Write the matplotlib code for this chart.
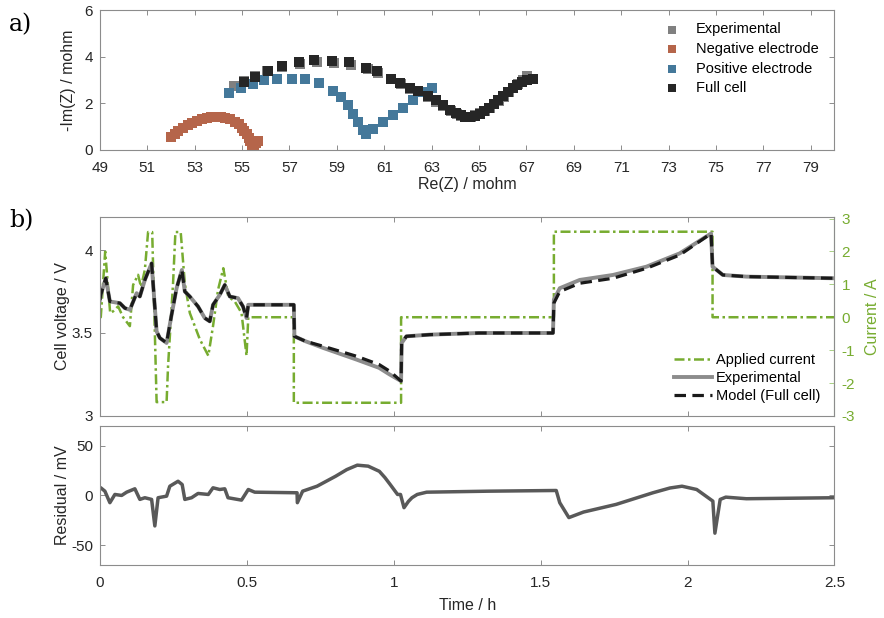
import matplotlib
matplotlib.use("Agg")
import matplotlib.pyplot as plt

plt.rcParams['font.family'] = ['Liberation Sans', 'DejaVu Sans']
plt.rcParams['axes.unicode_minus'] = False

# ---- a) impedance spectra ----
exp_re = [54.65, 55.1, 55.55, 56.05, 56.7, 57.45, 58.15, 58.9, 59.6, 60.3, 60.75, 61.3,
          61.7, 62.1, 62.45, 62.85, 63.2, 63.5, 63.8, 64.05, 64.25, 64.45, 64.65, 64.85,
          65.05, 65.25, 65.45, 65.65, 65.85, 66.05, 66.25, 66.45, 66.65, 66.85, 67.03]
exp_im = [2.72, 2.95, 3.17, 3.38, 3.56, 3.70, 3.76, 3.73, 3.64, 3.45, 3.30, 3.02,
          2.82, 2.62, 2.46, 2.25, 2.05, 1.86, 1.67, 1.53, 1.44, 1.39, 1.40, 1.47,
          1.57, 1.68, 1.81, 1.95, 2.11, 2.28, 2.47, 2.65, 2.83, 3.00, 3.18]

neg_re = [52.0, 52.15, 52.3, 52.5, 52.7, 52.9, 53.1, 53.3, 53.5, 53.7, 53.9, 54.1,
          54.3, 54.5, 54.7, 54.85, 55.0, 55.1, 55.2, 55.3, 55.35, 55.4, 55.5, 55.6, 55.68]
neg_im = [0.55, 0.68, 0.80, 0.93, 1.05, 1.15, 1.25, 1.32, 1.37, 1.40, 1.41, 1.40,
          1.36, 1.30, 1.20, 1.08, 0.93, 0.80, 0.65, 0.50, 0.35, 0.20, 0.20, 0.28, 0.36]

pos_re = [54.46, 54.95, 55.44, 55.94, 56.46, 57.09, 57.67, 58.26, 58.82, 59.18, 59.46,
          59.67, 59.88, 60.09, 60.24, 60.52, 60.94, 61.37, 61.79, 62.21, 62.64, 63.02]
pos_im = [2.44, 2.63, 2.84, 2.99, 3.03, 3.06, 3.02, 2.87, 2.53, 2.27, 1.91,
          1.55, 1.19, 0.83, 0.69, 0.90, 1.19, 1.48, 1.77, 2.12, 2.48, 2.67]

full_re = [55.09, 55.56, 56.08, 56.68, 57.39, 58.05, 58.79, 59.51, 60.24, 60.70, 61.29,
           61.65, 62.07, 62.42, 62.84, 63.20, 63.50, 63.78, 64.02, 64.22, 64.42, 64.62,
           64.82, 65.02, 65.22, 65.42, 65.62, 65.82, 66.02, 66.22, 66.42, 66.62, 66.82,
           67.02, 67.27]
full_im = [2.92, 3.13, 3.39, 3.59, 3.78, 3.85, 3.82, 3.76, 3.52, 3.37, 3.06,
           2.87, 2.67, 2.53, 2.30, 2.12, 1.92, 1.72, 1.57, 1.47, 1.41, 1.40,
           1.45, 1.55, 1.67, 1.80, 1.95, 2.12, 2.30, 2.48, 2.64, 2.78, 2.90,
           2.98, 3.02]

# ---- b) time series ----
t_v = [0.0, 0.003, 0.02, 0.034, 0.068, 0.085, 0.102, 0.125, 0.136, 0.153, 0.176, 0.193,
       0.204, 0.227, 0.244, 0.261, 0.279, 0.289, 0.306, 0.334, 0.357, 0.374, 0.385, 0.408,
       0.425, 0.442, 0.470, 0.487, 0.499, 0.505, 0.66, 0.662, 0.70, 0.76, 0.873, 0.95,
       0.986, 1.025, 1.027, 1.043, 1.122, 1.29, 1.542, 1.545, 1.565, 1.633, 1.746, 1.86,
       1.973, 2.08, 2.085, 2.12, 2.2, 2.5]
v_exp = [3.70, 3.73, 3.83, 3.69, 3.68, 3.65, 3.64, 3.74, 3.72, 3.82, 3.92, 3.51,
         3.47, 3.44, 3.61, 3.77, 3.88, 3.75, 3.72, 3.66, 3.59, 3.57, 3.67, 3.73,
         3.79, 3.72, 3.71, 3.66, 3.59, 3.67, 3.67, 3.48, 3.45, 3.41, 3.34, 3.29,
         3.25, 3.21, 3.44, 3.48, 3.49, 3.50, 3.50, 3.70, 3.77, 3.82, 3.85, 3.90,
         3.98, 4.10, 3.90, 3.85, 3.84, 3.83]
v_mod = [3.70, 3.73, 3.83, 3.69, 3.68, 3.65, 3.64, 3.74, 3.72, 3.82, 3.92, 3.51,
         3.47, 3.44, 3.61, 3.77, 3.88, 3.75, 3.72, 3.66, 3.59, 3.57, 3.67, 3.73,
         3.79, 3.72, 3.71, 3.66, 3.59, 3.67, 3.67, 3.48, 3.45, 3.42, 3.36, 3.31,
         3.27, 3.21, 3.44, 3.48, 3.49, 3.50, 3.50, 3.68, 3.75, 3.80, 3.83, 3.89,
         3.97, 4.10, 3.90, 3.85, 3.84, 3.83]

t_i = [0.0, 0.003, 0.018, 0.035, 0.045, 0.062, 0.079, 0.102, 0.113, 0.13, 0.14, 0.153,
       0.164, 0.178, 0.187, 0.193, 0.227, 0.232, 0.249, 0.257, 0.275, 0.289, 0.306, 0.323,
       0.340, 0.369, 0.385, 0.402, 0.420, 0.437, 0.459, 0.482, 0.499, 0.505, 0.66, 0.66,
       1.025, 1.025, 1.545, 1.545, 2.085, 2.085, 2.5]
cur = [0.0, 0.0, 2.0, 0.13, 0.18, 0.33, 0.0, -0.27, 0.98, 1.29, 0.92, 1.44,
       2.59, 2.59, -0.47, -2.58, -2.58, -1.48, 1.03, 2.59, 2.59, 1.03, 0.13, -0.27,
       -0.67, -1.17, -0.27, 0.83, 1.49, 0.63, 0.48, 0.13, -1.17, 0.0, 0.0, -2.6,
       -2.6, 0.0, 0.0, 2.6, 2.6, 0.0, 0.0]

t_r = [0.0, 0.003, 0.017, 0.034, 0.051, 0.074, 0.091, 0.119, 0.136, 0.153, 0.176, 0.187,
       0.198, 0.227, 0.238, 0.266, 0.28, 0.289, 0.312, 0.334, 0.369, 0.385, 0.408, 0.425,
       0.436, 0.482, 0.505, 0.527, 0.671, 0.672, 0.69, 0.739, 0.802, 0.84, 0.876, 0.913,
       0.951, 0.97, 0.988, 1.013, 1.023, 1.035, 1.05, 1.062, 1.08, 1.112, 1.323, 1.553,
       1.565, 1.596, 1.646, 1.757, 1.882, 1.94, 1.981, 2.031, 2.086, 2.093, 2.111, 2.13,
       2.2, 2.5]
res = [8, 7.7, 4.3, -7.3, 1, 0, 3.3, 6.7, -4, -2.3, -4, -30.7,
       -2.3, -0.7, 9.3, 14.3, 11, -4, -2.3, 2, 1, 7.7, 6, 6.7,
       -2.3, -4.7, 6, 3.3, 2.7, -7.3, 4.3, 9.3, 19.3, 26, 30.5, 29.5,
       24.3, 18, 11, 1, 1, -12.3, -6, -2.3, 1, 3.3, 4.3, 5,
       -7.3, -22.3, -16.7, -9, 2.7, 7.5, 9.3, 6, -5.7, -38, -4, -1.7,
       -3.3, -2.3]

spine_c = '#8c8c8c'
txt_c = '#262626'
green = '#77AC30'


def style(ax, color=spine_c):
    for s in ax.spines.values():
        s.set_color(color)
        s.set_linewidth(0.8)
    ax.tick_params(direction='in', length=3.5, width=0.7, color=color,
                   labelsize=11, labelcolor=txt_c, top=True, right=True)
    ax.tick_params(axis='x', pad=8)
    ax.tick_params(axis='y', pad=5)


fig = plt.figure(figsize=(8.84, 6.18), dpi=100)

# a) Nyquist plot
ax1 = fig.add_axes([0.113, 0.758, 0.831, 0.2254])
ms = 55
ax1.scatter(exp_re, exp_im, marker='s', s=ms, c='#808080', lw=0, label='Experimental')
ax1.scatter(neg_re, neg_im, marker='s', s=ms, c='#B5654A', lw=0, label='Negative electrode')
ax1.scatter(pos_re, pos_im, marker='s', s=ms, c='#44789A', lw=0, label='Positive electrode')
ax1.scatter(full_re, full_im, marker='s', s=ms, c='#262626', lw=0, label='Full cell')
ax1.set_xlim(49, 80)
ax1.set_ylim(0, 6)
ax1.set_xticks(range(49, 80, 2))
ax1.set_yticks([0, 2, 4, 6])
style(ax1)
ax1.set_xlabel('Re(Z) / mohm', fontsize=11.5, color=txt_c, labelpad=2)
ax1.set_ylabel('-Im(Z) / mohm', fontsize=11.5, color=txt_c, labelpad=6)
ax1.legend(loc='upper right', bbox_to_anchor=(0.99, 0.975), frameon=False, fontsize=10.5,
           handletextpad=0.6, labelspacing=0.38, markerscale=0.85, borderaxespad=0.2)
fig.text(0.01, 0.95, 'a)', fontsize=17, family='DejaVu Serif', color='black')

# b) voltage and current
ax2 = fig.add_axes([0.113, 0.327, 0.831, 0.322])
ax2r = ax2.twinx()
l_cur, = ax2r.plot(t_i, cur, color=green, lw=1.8, ls=(0, (4.0, 1.4, 1.0, 1.4)),
                   label='Applied current')
l_exp, = ax2.plot(t_v, v_exp, color='#8c8c8c', lw=2.8, label='Experimental')
l_mod, = ax2.plot(t_v, v_mod, color='#1a1a1a', lw=2.3, ls=(0, (3.6, 2.0)),
                  label='Model (Full cell)')
ax2.set_zorder(ax2r.get_zorder() + 1)
ax2.patch.set_visible(False)
ax2.set_xlim(0, 2.5)
ax2.set_ylim(3, 4.2)
ax2.set_yticks([3, 3.5, 4])
ax2.set_yticklabels(['3', '3.5', '4'])
ax2r.set_ylim(-3, 3.05)
ax2r.set_yticks(range(-3, 4))
style(ax2)
ax2.tick_params(right=False, labelbottom=False)
for s in ax2r.spines.values():
    s.set_visible(False)
ax2r.spines['right'].set_visible(True)
ax2r.spines['right'].set_color('#A9CF85')
ax2r.tick_params(direction='in', length=3.5, width=0.7, color='#A9CF85',
                 labelsize=11, labelcolor=green, pad=5)
ax2r.set_ylabel('Current / A', fontsize=11.5, color=green, labelpad=7)
ax2.set_ylabel('Cell voltage / V', fontsize=11.5, color=txt_c, labelpad=1)
ax2.legend(handles=[l_cur, l_exp, l_mod], loc='lower right', bbox_to_anchor=(0.995, 0.015),
           frameon=False, fontsize=10.5, handlelength=2.6, handletextpad=0.3,
           labelspacing=0.25, borderaxespad=0.3)
fig.text(0.01, 0.632, 'b)', fontsize=17, family='DejaVu Serif', color='black')

# residual
ax3 = fig.add_axes([0.113, 0.0858, 0.831, 0.225])
ax3.plot(t_r, res, color='#595959', lw=2.5)
ax3.set_xlim(0, 2.5)
ax3.set_ylim(-70, 70)
ax3.set_yticks([-50, 0, 50])
ax3.set_xticks([0, 0.5, 1, 1.5, 2, 2.5])
ax3.set_xticklabels(['0', '0.5', '1', '1.5', '2', '2.5'])
style(ax3)
ax3.set_ylabel('Residual / mV', fontsize=11.5, color=txt_c, labelpad=1)
ax3.set_xlabel('Time / h', fontsize=11.5, color=txt_c, labelpad=6)

fig.savefig('out.png', dpi=100)
